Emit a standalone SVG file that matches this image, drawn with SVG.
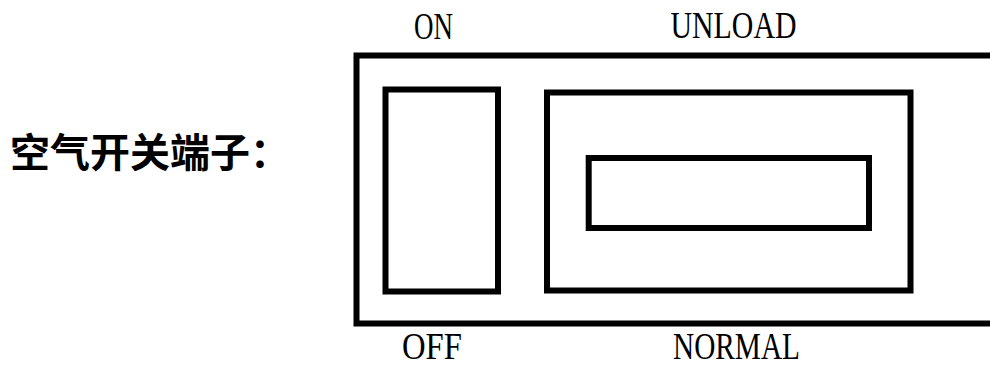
<svg xmlns="http://www.w3.org/2000/svg" width="990" height="369" viewBox="0 0 990 369">
<style>
.box{fill:none;stroke:#000;stroke-width:6}
.lbl{font-family:"Liberation Serif","Times New Roman",serif;font-size:37px;fill:#000}
.title{font-family:"Noto Sans CJK SC","Noto Sans",sans-serif;font-size:40px;font-weight:bold;fill:#000}
</style>
<rect width="990" height="369" fill="#fff"/>
<g id="title"><text class="title" x="10" y="167">空气开关端子：</text></g>
<g id="outer"><rect class="box" x="356.5" y="55.5" width="640" height="268"/></g>
<g id="onoff">
<rect class="box" x="385.5" y="89.5" width="112.5" height="202"/>
<text class="lbl" x="414" y="39" textLength="39" lengthAdjust="spacingAndGlyphs">ON</text>
<text class="lbl" x="402" y="358.5" textLength="60" lengthAdjust="spacingAndGlyphs">OFF</text>
</g>
<g id="load">
<rect class="box" x="547" y="92.5" width="363.5" height="198"/>
<rect class="box" x="588.7" y="158" width="280.3" height="70"/>
<text class="lbl" x="670.5" y="37.7" textLength="126" lengthAdjust="spacingAndGlyphs">UNLOAD</text>
<text class="lbl" x="673" y="359" textLength="127" lengthAdjust="spacingAndGlyphs">NORMAL</text>
</g>
<g id="connectors"/>
</svg>
